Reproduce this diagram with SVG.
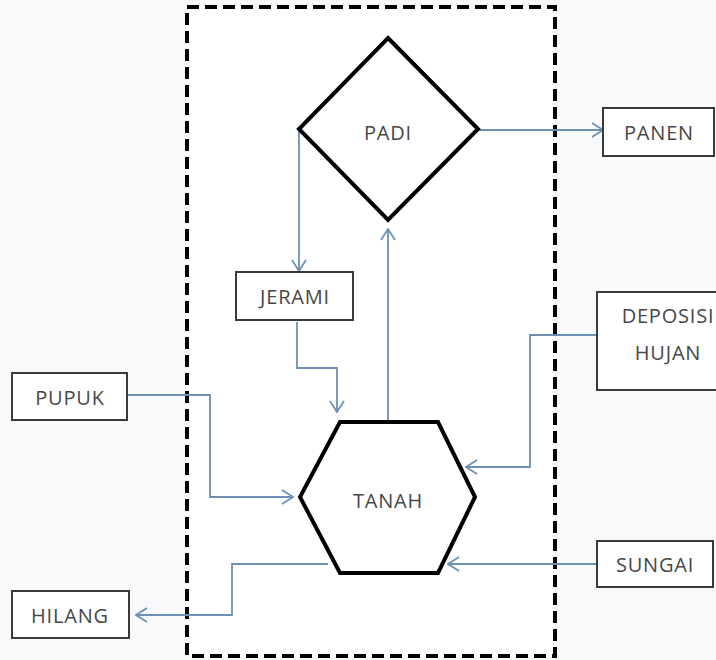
<svg xmlns="http://www.w3.org/2000/svg" width="716" height="660" viewBox="0 0 716 660">
<defs>
<style>
.box{fill:#ffffff;stroke:#3a3a3a;stroke-width:2}
.shape{fill:#ffffff;stroke:#000000;stroke-width:4;stroke-linejoin:miter}
.lbl{font-family:"Open Sans","Liberation Sans",sans-serif;font-size:20px;letter-spacing:0.8px;fill:#474747;text-anchor:middle;dominant-baseline:central}
.con{fill:none;stroke:#6d91b6;stroke-width:1.8;marker-end:url(#arr)}
</style>
<marker id="arr" viewBox="0 0 13 16" refX="12" refY="8" markerWidth="13" markerHeight="16" markerUnits="userSpaceOnUse" orient="auto">
<path d="M1,1 L12,8 L1,15" fill="none" stroke="#6d91b6" stroke-width="1.8"/>
</marker>
</defs>
<rect x="0" y="0" width="716" height="660" fill="#f8f9fb"/>
<rect id="boundary" x="187" y="7" width="368" height="649" fill="#ffffff" stroke="#000000" stroke-width="4" stroke-dasharray="12 6"/>
<g id="connectors">
<path class="con" d="M478,130 H603"/>
<path class="con" d="M299,128 V271"/>
<path class="con" d="M297,322 V368 H337 V412"/>
<path class="con" d="M388,422 V229"/>
<path class="con" d="M127,395 H210 V497 H293"/>
<path class="con" d="M597,335 H530 V467 H466"/>
<path class="con" d="M597,564 H448"/>
<path class="con" d="M328,564 H232 V615 H136"/>
</g>
<g id="padi">
<polygon class="shape" points="388,38 478,129 388,220 299,129"/>
<text class="lbl" x="388" y="132">PADI</text>
</g>
<g id="tanah">
<polygon class="shape" points="340,422 438,422 475,497 438,573 340,573 300,497"/>
<text class="lbl" x="388" y="500">TANAH</text>
</g>
<g id="panen">
<rect class="box" x="603" y="108" width="111" height="48"/>
<text class="lbl" x="659" y="132">PANEN</text>
</g>
<g id="jerami">
<rect class="box" x="236" y="272" width="117" height="48"/>
<text class="lbl" x="295" y="296">JERAMI</text>
</g>
<g id="deposisi">
<rect class="box" x="597" y="292" width="130" height="98"/>
<text class="lbl" x="668" y="315">DEPOSISI</text>
<text class="lbl" x="668" y="352">HUJAN</text>
</g>
<g id="pupuk">
<rect class="box" x="12" y="373" width="115" height="47"/>
<text class="lbl" x="70" y="397">PUPUK</text>
</g>
<g id="sungai">
<rect class="box" x="597" y="541" width="116" height="46"/>
<text class="lbl" x="655" y="564">SUNGAI</text>
</g>
<g id="hilang">
<rect class="box" x="12" y="591" width="117" height="47"/>
<text class="lbl" x="70" y="615">HILANG</text>
</g>
</svg>
